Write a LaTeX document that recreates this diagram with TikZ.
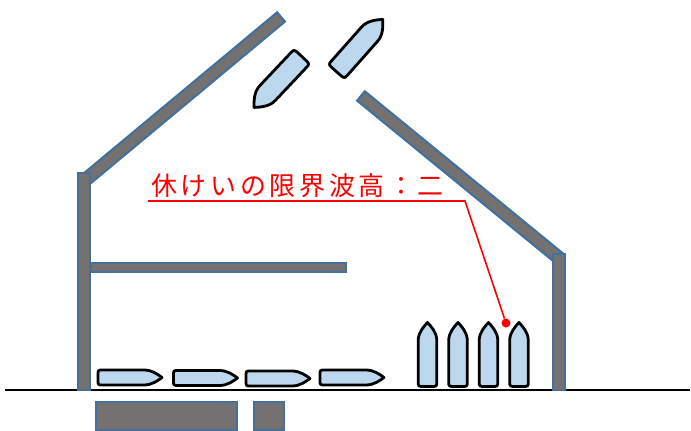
\documentclass[tikz,border=0pt]{standalone}
\usepackage{fontspec}
\newfontfamily\jpfont[LetterSpace=14]{Noto Sans CJK JP}
\usetikzlibrary{calc}

\definecolor{gris}{HTML}{767171}
\definecolor{azul}{HTML}{41719C}
\definecolor{celeste}{HTML}{BDD7EE}

\tikzset{
  barra/.style={fill=gris, draw=azul, line width=2.2pt},
  casco/.style={fill=celeste, draw=black, line width=2.8pt, line join=round},
  bote/.pic={
    \draw[casco] (14,7.5) -- (-27,7.5) .. controls (-32,7.5) .. (-32,2.5)
      -- (-32,-2.5) .. controls (-32,-7.5) .. (-27,-7.5) -- (14,-7.5)
      .. controls (22,-7.5) and (28,-3) .. (32,0)
      .. controls (28,3) and (22,7.5) .. (14,7.5) -- cycle;
  },
  punto/.style={circle, fill=red, inner sep=0pt, minimum size=9pt},
  aviso/.style={text=red, font=\jpfont\fontsize{26}{30}\selectfont, inner sep=0pt}
}

% viga de ancho 2*#1 entre dos puntos
\newcommand{\viga}[3][6]{\draw[barra] ($#2!#1pt!90:#3$) -- ($#3!#1pt!-90:#2$)
  -- ($#3!#1pt!90:#2$) -- ($#2!#1pt!-90:#3$) -- cycle;}

\begin{document}
\begin{tikzpicture}[x=1pt, y=-1pt]
\useasboundingbox (0,0) rectangle (691,431);

% suelo
\coordinate (s0) at (5,390);
\coordinate (s1) at (690,390);
\draw[line width=1.2pt] (s0) -- (s1);

% techo y paredes
\viga{(84,181)}{(281,17)}
\viga{(361,96)}{(559,258)}
\viga{(84,173)}{(84,390)}
\viga{(559,254)}{(559,390)}
\viga[4.5]{(91,267.5)}{(346,267.5)}

% bajo el suelo
\draw[barra] (96,402) rectangle (237,430);
\draw[barra] (254,402) rectangle (284,430);

% botes en el suelo
\pic at (130,377.5) {bote};
\pic at (205.5,378) {bote};
\pic at (278,378.5) {bote};
\pic at (352,377.5) {bote};

% botes de pie
\foreach \x in {427.5,458,488.5,519}
  \pic[rotate=90, yscale=1.24] at (\x,354.5) {bote};

% botes sueltos
\pic[rotate=226.7, xscale=1.09, yscale=1.43] at (278,82) {bote};
\pic[rotate=48.4, xscale=1.09, yscale=1.43] at (359.5,45.5) {bote};

% aviso
\node[aviso, anchor=base west] (aviso) at (151,195) {休けいの限界波高：二};
\coordinate (r0) at (148,201);
\coordinate (r1) at (465,201);
\node[punto] (p) at (506,323) {};
\draw[red, line width=1.6pt] (r0) -- (r1) -- (p);
\end{tikzpicture}
\end{document}
